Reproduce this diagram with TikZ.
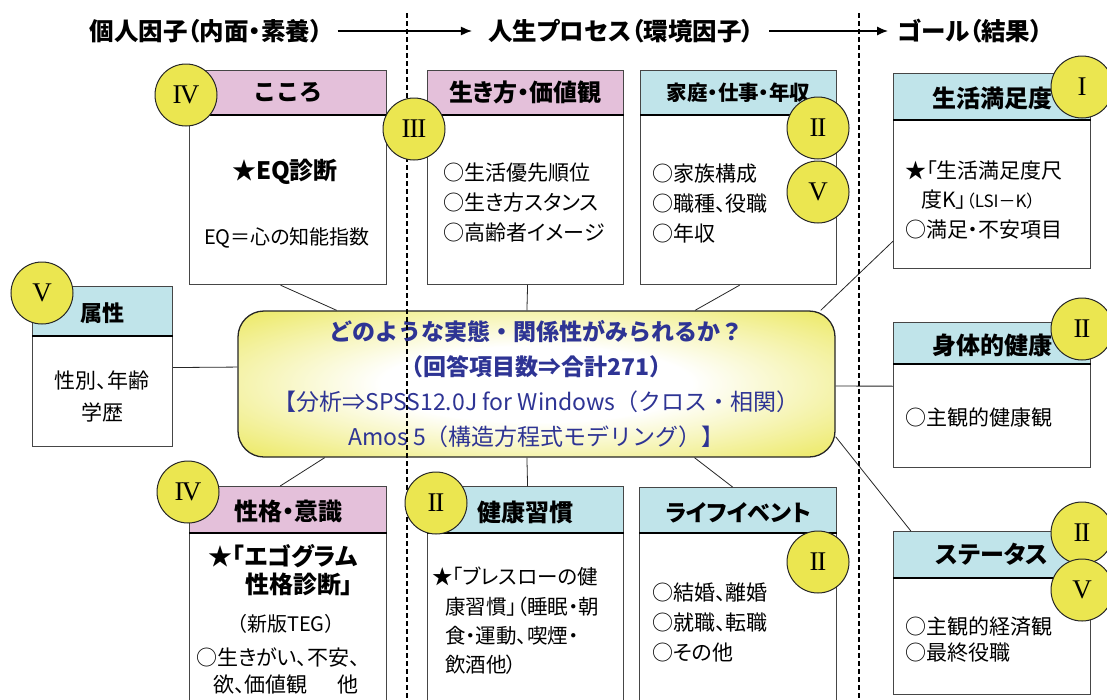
\documentclass[tikz,border=0pt]{standalone}
\usepackage{fontspec}
\setmainfont{Noto Sans CJK JP}
\newfontfamily\pf{Noto Sans CJK JP}[RawFeature={+palt}]
\newfontfamily\romfont{Liberation Serif}
\usetikzlibrary{arrows.meta,calc}
\definecolor{pinkh}{RGB}{228,192,218}
\definecolor{blueh}{RGB}{192,228,234}
\definecolor{cyel}{RGB}{235,230,80}
\definecolor{cboxyel}{RGB}{232,228,66}
\definecolor{navy}{RGB}{46,52,148}
\definecolor{edge}{RGB}{70,70,70}
\pgfdeclareradialshading{glow}{\pgfpoint{0bp}{0bp}}{color(0bp)=(white); color(13bp)=(white); color(40bp)=(cboxyel); color(50bp)=(cboxyel)}
\newcommand\mkbox[7]{%
  \node[bodyb, minimum width={#6-#2}, minimum height={#5-#4}] (#1b) at (#2,#4) {};
  \node[hdrb, fill=#7, minimum width={#6-#2}, minimum height={#4-#3}] (#1h) at (#2,#3) {};
  \draw[line width=2.2, black] (#1h.south west) -- (#1h.south east);
}
\newcommand\rII{I\kern-1.2ptI}
\newcommand\rIII{I\kern-1.2ptI\kern-1.2ptI}
\newcommand\rIV{I\kern-1.6ptV}
\begin{document}
\begin{tikzpicture}[x=1pt,y=-1pt,
  hdrb/.style={draw=edge, line width=1.2, inner sep=0, anchor=north west},
  bodyb/.style={draw=edge, line width=1.2, fill=white, inner sep=0, anchor=north west},
  ttl/.style={inner sep=0, font=\bfseries\fontsize{23}{23}\selectfont},
  toptxt/.style={inner sep=0, font=\bfseries\pf\fontsize{24.5}{24.5}\selectfont},
  harrow/.style={line width=1.4, -{Latex[length=11,width=9]}},
  bt/.style={inner sep=0, anchor=west, align=left, font=\pf\fontsize{21}{30}\selectfont},
  btc/.style={inner sep=0, align=center, font=\pf\fontsize{21}{30}\selectfont},
  conn/.style={draw=black!85, line width=0.8},
  dashline/.style={draw=black, line width=1.8, dash pattern=on 5pt off 3pt},
  rn/.style={circle, fill=cyel, draw=black!85, line width=1, minimum size=62, inner sep=0, font=\romfont\fontsize{27}{27}\selectfont}]
\useasboundingbox (0,0) rectangle (1107,699);
\fill[white] (0,0) rectangle (1107,699);

% header row
\node[toptxt] (t1) at (206,31) {個人因子（内面・素養）};
\node[toptxt] (t2) at (621,31) {人生プロセス（環境因子）};
\node[toptxt] (t3) at (970,31) {ゴール（結果）};
\draw[harrow] ([xshift=15]t1.east) -- ([xshift=-16]t2.west);
\draw[harrow] ([xshift=15]t2.east) -- ([xshift=-9]t3.west);

% boxes
\mkbox{kok}{189}{70}{114}{284}{386}{pinkh}
\mkbox{iki}{427}{70}{114}{284}{623}{pinkh}
\mkbox{kat}{640}{70}{114}{284}{836}{blueh}
\mkbox{sat}{893}{73}{119}{268}{1090}{blueh}
\mkbox{zok}{32}{286}{335}{446}{172}{blueh}
\mkbox{shi}{893}{322}{363}{467}{1090}{blueh}
\mkbox{sei}{189}{486}{532}{712}{386}{pinkh}
\mkbox{ken}{427}{486}{532}{712}{623}{blueh}
\mkbox{lif}{639}{487}{532}{712}{836}{blueh}
\mkbox{sta}{893}{531}{577}{694}{1090}{blueh}

% titles
\node[ttl] (kokt) at (kokh.center) {こころ};
\node[ttl, font=\bfseries\pf\fontsize{24}{24}\selectfont] (ikit) at (ikih.center) {生き方・価値観};
\node[ttl, font=\bfseries\pf\fontsize{20.5}{20.5}\selectfont] (katt) at (kath.center) {家庭・仕事・年収};
\node[ttl, font=\bfseries\fontsize{24}{24}\selectfont] (satt) at ([yshift=-2]sath.center) {生活満足度};
\node[ttl, font=\bfseries\fontsize{22}{22}\selectfont] (zokt) at ([yshift=-2]zokh.center) {属性};
\node[ttl, font=\bfseries\fontsize{24}{24}\selectfont] (shit) at ([yshift=-2]shih.center) {身体的健康};
\node[ttl, font=\bfseries\pf\fontsize{24}{24}\selectfont] (seit) at ([yshift=-2]seih.center) {性格・意識};
\node[ttl, font=\bfseries\fontsize{24}{24}\selectfont] (kent) at ([yshift=-3]kenh.center) {健康習慣};
\node[ttl, font=\bfseries\pf\fontsize{23}{23}\selectfont] (lift) at ([yshift=-3]lifh.center) {ライフイベント};
\node[ttl, font=\bfseries\pf\fontsize{24}{24}\selectfont] (stat) at (stah.center) {ステータス};

% body texts
\node[btc, font=\bfseries\fontsize{24}{24}\selectfont] (kok1) at (285,172) {★EQ診断};
\node[btc, font=\pf\fontsize{20}{20}\selectfont] (kok2) at (287,238) {EQ＝心の知能指数};
\node[bt] (iki1) at (443,203) {○生活優先順位\\○生き方スタンス\\○高齢者イメージ};
\node[bt] (kat1) at (652,203) {○家族構成\\○職種、役職\\○年収};
\node[bt] (sat1) at (905,170) {★「生活満足度尺};
\node[bt] (sat2) at (921,200) {度K」{\fontsize{17}{17}\selectfont（LSI－K）}};
\node[bt] (sat3) at (905,230) {○満足・不安項目};
\node[btc, font=\pf\fontsize{21}{32}\selectfont] (zok1) at (102,396) {性別、年齢\\学歴};
\node[bt] (shi1) at (905,418) {○主観的健康観};
\node[btc, font=\bfseries\pf\fontsize{24}{24}\selectfont] (sei1) at (283,556) {★「エゴグラム};
\node[btc, font=\bfseries\pf\fontsize{24}{24}\selectfont] (sei2) at (299,584) {性格診断」};
\node[btc, font=\pf\fontsize{20}{20}\selectfont] (sei3) at (286,624) {（新版TEG）};
\node[bt] (sei4) at (196,657) {○生きがい、不安、};
\node[bt] (sei5) at (213,685) {欲、価値観\hspace{30pt}他};
\node[bt, font=\pf\fontsize{20.5}{20.5}\selectfont] (ken1) at (432,577) {★「ブレスローの健};
\node[bt, font=\pf\fontsize{20.5}{20.5}\selectfont] (ken2) at (445,607) {康習慣」（睡眠・朝};
\node[bt, font=\pf\fontsize{20.5}{20.5}\selectfont] (ken3) at (445,636) {食・運動、喫煙・};
\node[bt, font=\pf\fontsize{20.5}{20.5}\selectfont] (ken4) at (445,665) {飲酒他）};
\node[bt] (lif1) at (652,622) {○結婚、離婚\\○就職、転職\\○その他};
\node[bt, font=\pf\fontsize{21}{26}\selectfont] (sta1) at (905,640) {○主観的経済観\\○最終役職};

% centre
\node[draw=black!85, line width=1.3, rounded corners=26, minimum width=597, minimum height=146,
      shade, shading=glow, inner sep=0, align=center, text=navy,
      font=\fontsize{23}{35}\selectfont] (c) at (536.5,384)
  {\textbf{どのような実態・関係性がみられるか？}\\\textbf{（回答項目数⇒合計271）}\\【分析⇒SPSS12.0J for Windows（クロス・相関）\\Amos 5（構造方程式モデリング）】};

% connectors
\draw[conn] ($(kokb.south west)!0.462!(kokb.south east)$) -- ($(c.north west)!0.166!(c.north east)$);
\draw[conn] ($(ikib.south west)!0.51!(ikib.south east)$) -- ($(c.north west)!0.484!(c.north east)$);
\draw[conn] ($(katb.south west)!0.505!(katb.south east)$) -- ($(c.north west)!0.765!(c.north east)$);
\draw[conn] ($(satb.south west)+(0,-28)$) -- ($(c.north west)!0.975!(c.north east)$);
\draw[conn] ($(zokb.north east)!0.29!(zokb.south east)$) -- ($(c.north west)!0.385!(c.south west)$);
\draw[conn] ($(c.north east)!0.514!(c.south east)$) -- ($(shib.north west)!0.22!(shib.south west)$);
\draw[conn] (c.-10) -- ($(stah.north west)!0.09!(stah.north east)$);
\draw[conn] ($(c.south west)!0.146!(c.south east)$) -- ($(seih.north west)!0.46!(seih.north east)$);
\draw[conn] ($(c.south west)!0.484!(c.south east)$) -- ($(kenh.north west)!0.51!(kenh.north east)$);
\draw[conn] ($(c.south west)!0.764!(c.south east)$) -- ($(lifh.north west)!0.472!(lifh.north east)$);

% dashed separators
\draw[dashline] (407,13) -- (407,699);
\draw[dashline] (859,13) -- (859,699);

% numbered circles
\node[rn] (n4a) at (186,95) {\rIV};
\node[rn] (n3a) at (414,129) {\rIII};
\node[rn] (n2a) at (818,128) {\rII};
\node[rn] (n5a) at (818,192) {V};
\node[rn] (n1a) at (1082,87) {I};
\node[rn] (n5b) at (42,293) {V};
\node[rn] (n2b) at (1082,329) {\rII};
\node[rn] (n4b) at (188,492) {\rIV};
\node[rn] (n2c) at (436,503) {\rII};
\node[rn] (n2d) at (818,562) {\rII};
\node[rn] (n2e) at (1082,533) {\rII};
\node[rn] (n5c) at (1082,590) {V};
\end{tikzpicture}
\end{document}
